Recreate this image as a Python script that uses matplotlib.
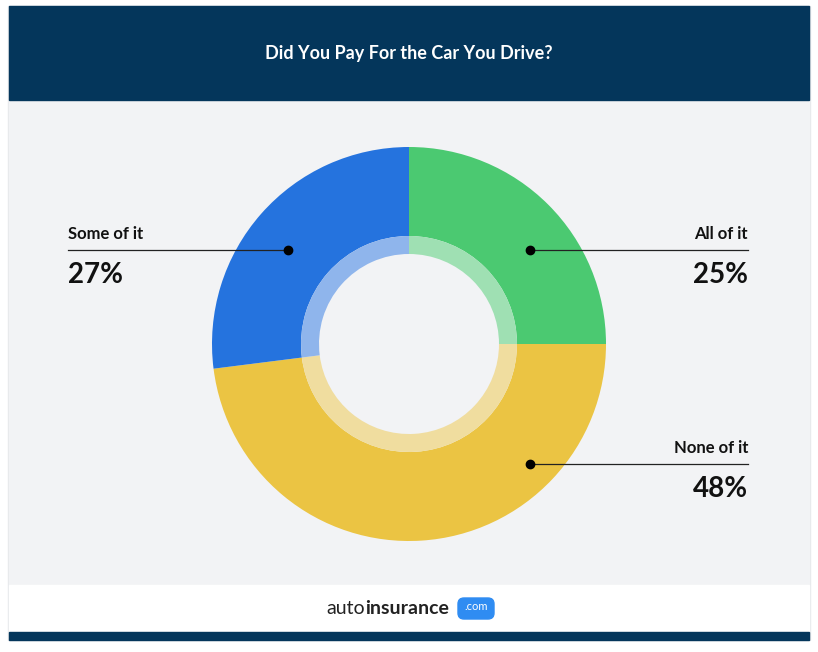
import matplotlib.pyplot as plt
from matplotlib.patches import Rectangle, FancyBboxPatch

categories = ['All of it', 'None of it', 'Some of it']
values = [25, 48, 27]
colors = ['#4bc971', '#ebc443', '#2573de']
inner_colors = ['#9fe0b3', '#f0dd9f', '#8fb5ec']

W, H = 818, 652
plt.rcParams['font.family'] = 'Lato'
fig = plt.figure(figsize=(W / 100, H / 100), dpi=100)
ax = fig.add_axes([0, 0, 1, 1])


def Y(y):
    return H - y


cx, cy = 409, Y(344)
ax.pie(values, colors=colors, startangle=90, counterclock=False,
       center=(cx, cy), radius=197, wedgeprops=dict(width=89, linewidth=0),
       frame=True)
ax.pie(values, colors=inner_colors, startangle=90, counterclock=False,
       center=(cx, cy), radius=108, wedgeprops=dict(width=18, linewidth=0),
       frame=True)
ax.set_xlim(0, W)
ax.set_ylim(0, H)
ax.set_aspect('auto')
ax.axis('off')

# card
ax.add_patch(Rectangle((8, Y(640)), 802, 634, color='#e6e8eb', zorder=-3))
ax.add_patch(Rectangle((9, Y(585)), 800, 485, color='#f2f3f5', zorder=-2))
ax.add_patch(Rectangle((9, Y(100)), 800, 94, color='#04365b', zorder=1))
ax.add_patch(Rectangle((9, Y(632)), 800, 47, color='white', zorder=1))
ax.add_patch(Rectangle((9, Y(640)), 800, 8, color='#04365b', zorder=1))
ax.text(409, Y(54), 'Did You Pay For the Car You Drive?', color='white',
        fontsize=13, fontweight='bold', ha='center', va='center', zorder=2)

# labels
labels = [
    ('All of it', '25%', 530, 250, 748, 'right'),
    ('None of it', '48%', 530, 464, 748, 'right'),
    ('Some of it', '27%', 288, 250, 68, 'left'),
]
for name, pct, dx, dy, tx, ha in labels:
    ax.plot([dx, tx], [Y(dy), Y(dy)], color='#222', lw=0.9, zorder=5)
    ax.plot(dx, Y(dy), 'o', color='black', ms=6, zorder=6)
    ax.text(tx, Y(dy) + 8, name, ha=ha, va='bottom', fontsize=12,
            fontweight='bold', color='#111', zorder=6)
    ax.text(tx, Y(dy) - 12, pct, ha=ha, va='top', fontsize=20,
            fontweight='bold', color='#111', zorder=6)

# footer logo
t1 = ax.text(326, Y(608), 'auto', ha='left', va='center', fontsize=14,
             color='#222', zorder=3)
ax.annotate('insurance', xy=(1, 0.5), xycoords=t1, xytext=(0.5, 0),
            textcoords='offset points', ha='left', va='center', fontsize=14,
            fontweight='bold', color='#222', zorder=3)
ax.add_patch(FancyBboxPatch((458, Y(619)), 36, 21,
                            boxstyle='round,pad=0,rounding_size=6',
                            color='#2f8cf2', zorder=3))
ax.text(476, Y(607), '.com', ha='center', va='center', fontsize=8,
        color='white', zorder=4)

fig.savefig('out.png', dpi=100)
